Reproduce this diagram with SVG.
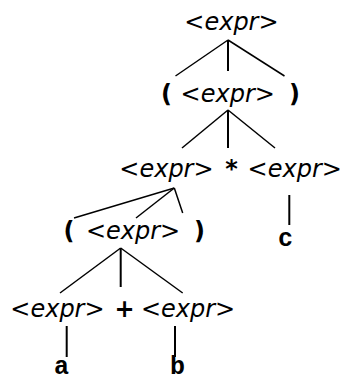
<svg xmlns="http://www.w3.org/2000/svg" width="345" height="382" viewBox="0 0 345 382">
<style>
.nt{font-family:"DejaVu Sans",Verdana,sans-serif;font-size:24px;fill:#000}
.nt tspan.i{font-style:italic}
.op{font-family:"DejaVu Sans",Verdana,sans-serif;font-size:24px;font-weight:bold;fill:#000}
.tm{font-family:"Liberation Mono","DejaVu Sans Mono",monospace;font-size:25px;font-weight:bold;fill:#000}
.e line{stroke:#000;stroke-width:1.5;stroke-linecap:butt}
.e line.v{stroke-width:2}
</style>
<rect width="345" height="382" fill="#fff"/>
<g id="connectors" class="e">
<line x1="228" y1="40" x2="175.5" y2="76"/>
<line class="v" x1="228" y1="40" x2="228" y2="71"/>
<line x1="228" y1="40" x2="284.5" y2="76"/>
<line x1="228" y1="110" x2="182" y2="148"/>
<line class="v" x1="228" y1="110" x2="228" y2="148"/>
<line x1="228" y1="110" x2="275" y2="148"/>
<line x1="174.3" y1="188" x2="74" y2="218"/>
<line x1="174.3" y1="188" x2="136" y2="218"/>
<line x1="174.3" y1="188" x2="182.7" y2="213"/>
<line class="v" x1="289.3" y1="195" x2="289.3" y2="225"/>
<line x1="120.7" y1="248" x2="60" y2="293"/>
<line class="v" x1="120.7" y1="248" x2="120.7" y2="287"/>
<line x1="120.7" y1="248" x2="182.7" y2="293"/>
<line class="v" x1="66.7" y1="326" x2="66.7" y2="357"/>
<line class="v" x1="175" y1="326" x2="175" y2="357"/>
</g>
<g id="n1"><text class="nt" x="184.3" y="30">&lt;<tspan class="i">expr</tspan>&gt;</text></g>
<g id="n2">
<text class="op" x="161" y="102">(</text>
<text class="nt" x="180.6" y="102">&lt;<tspan class="i">expr</tspan>&gt;</text>
<text class="op" x="300" y="102" text-anchor="end">)</text>
</g>
<g id="n3">
<text class="nt" x="119.3" y="177">&lt;<tspan class="i">expr</tspan>&gt;</text>
<text class="op" x="231.5" y="177" text-anchor="middle">*</text>
<text class="nt" x="247.6" y="177">&lt;<tspan class="i">expr</tspan>&gt;</text>
</g>
<g id="n4">
<text class="op" x="63.5" y="239">(</text>
<text class="nt" x="85.9" y="239">&lt;<tspan class="i">expr</tspan>&gt;</text>
<text class="op" x="205" y="239" text-anchor="end">)</text>
</g>
<g id="n5"><text class="tm" x="285.5" y="246" text-anchor="middle">c</text></g>
<g id="n6">
<text class="nt" x="10.3" y="317">&lt;<tspan class="i">expr</tspan>&gt;</text>
<text class="op" x="124.5" y="317" text-anchor="middle">+</text>
<text class="nt" x="140.9" y="317">&lt;<tspan class="i">expr</tspan>&gt;</text>
</g>
<g id="n7"><text class="tm" x="61.5" y="374" text-anchor="middle">a</text></g>
<g id="n8"><text class="tm" x="177.5" y="374" text-anchor="middle">b</text></g>
</svg>
